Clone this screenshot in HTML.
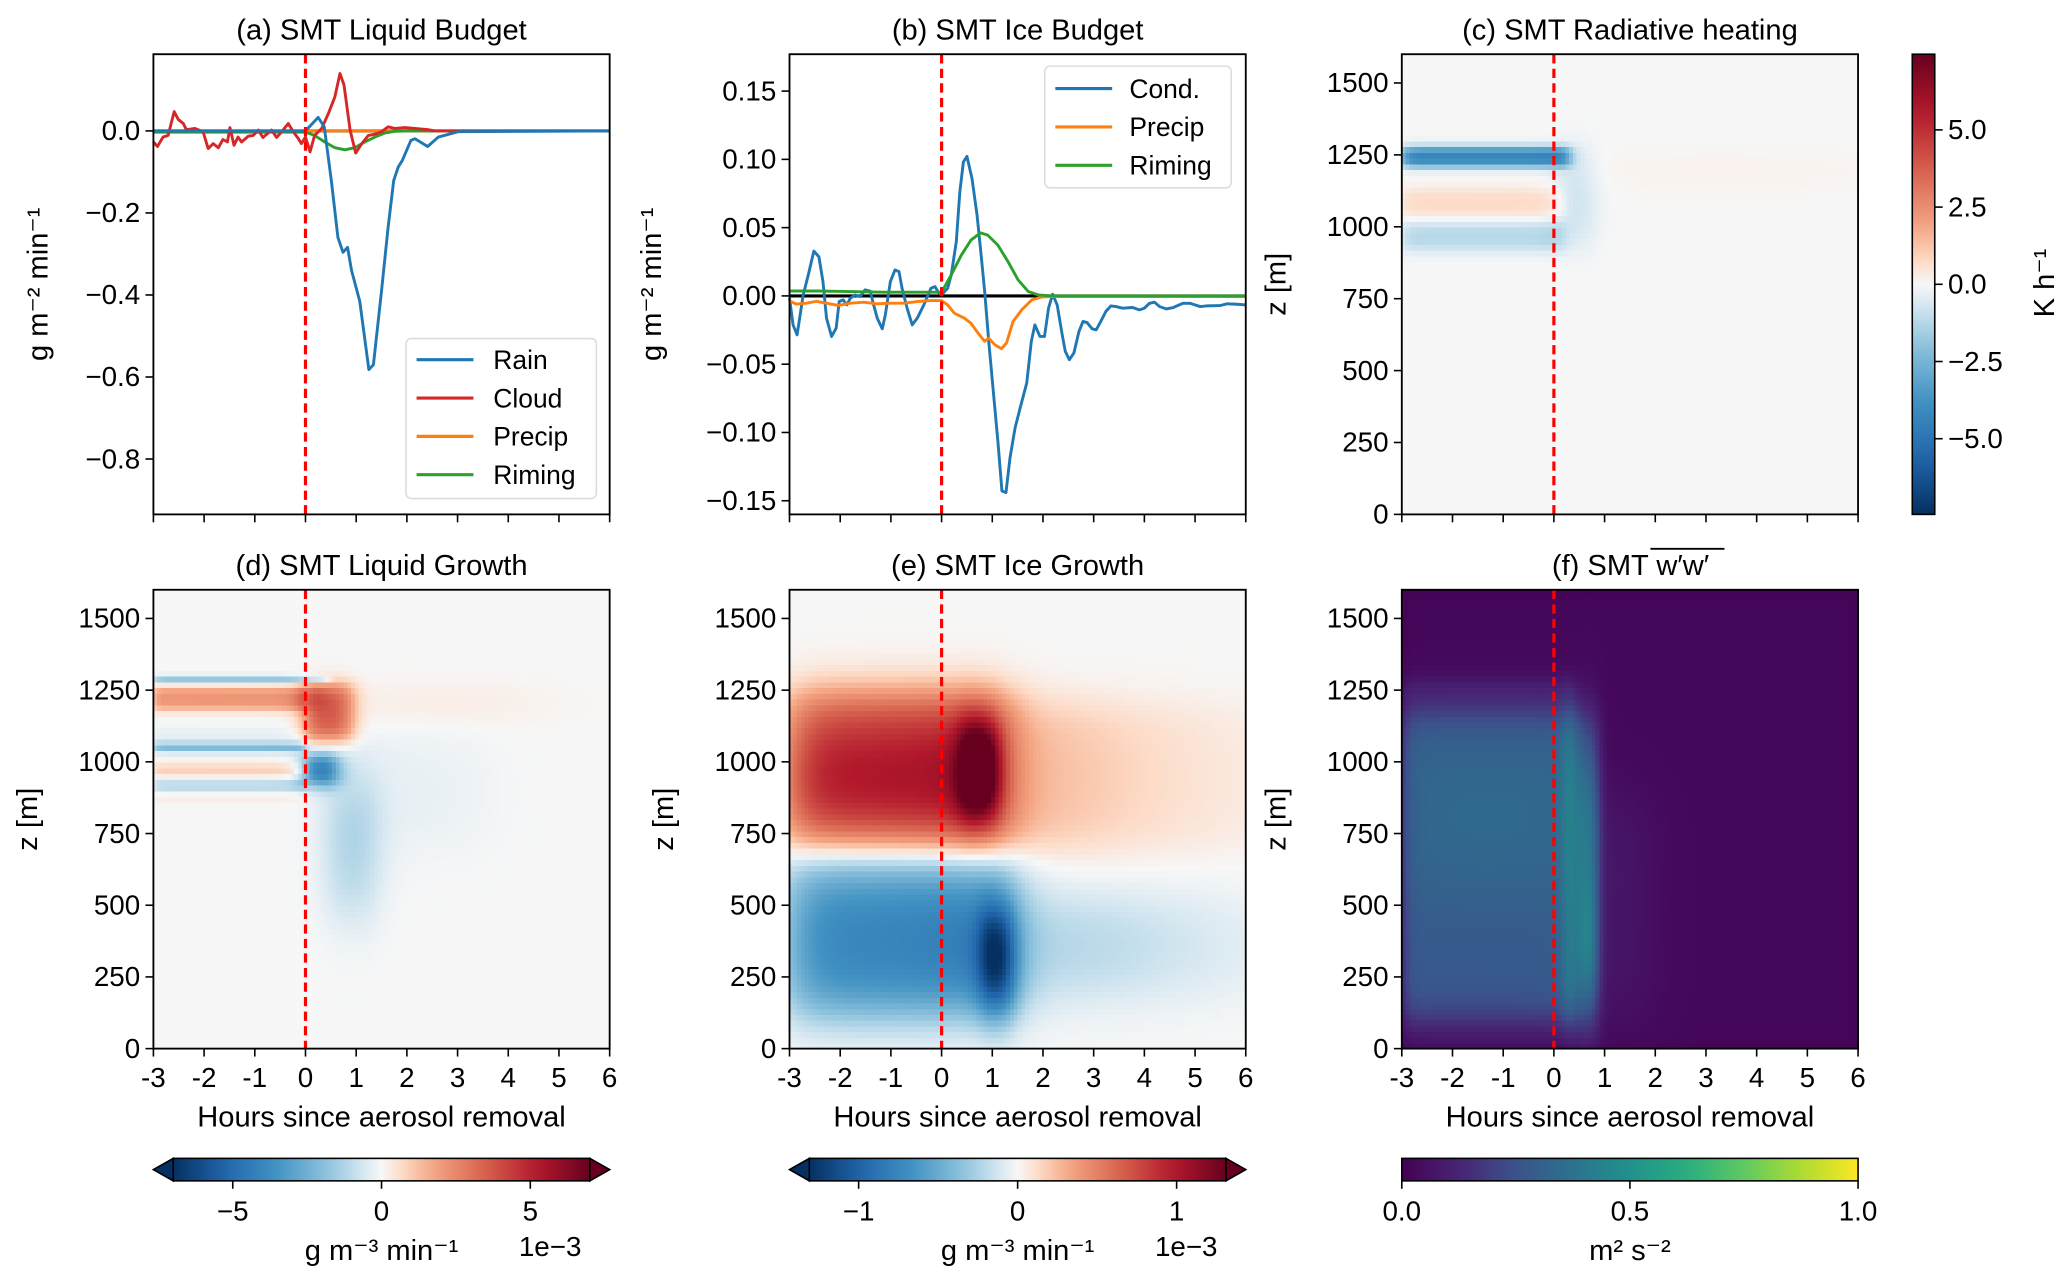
<!DOCTYPE html>
<html><head><meta charset="utf-8"><style>
html,body{margin:0;padding:0;background:#fff;}
svg{display:block;font-family:"Liberation Sans","DejaVu Sans",sans-serif;}
</style></head><body>
<svg id="fig" xmlns="http://www.w3.org/2000/svg" width="2067" height="1284" viewBox="0 0 1563 971" preserveAspectRatio="none">
<rect width="1563" height="971" fill="#fff"/>
<g id="layer"></g>
</svg>
<script>
// ---------- data: line panels ----------
const rainT=[-3,0,0.25,0.37,0.51,0.64,0.74,0.83,0.91,1.07,1.25,1.34,1.50,1.63,1.74,1.83,1.91,2.08,2.16,2.41,2.62,3.01,6];
const rainV=[0,0,0.033,0.010,-0.121,-0.260,-0.296,-0.284,-0.341,-0.415,-0.582,-0.570,-0.390,-0.235,-0.121,-0.088,-0.072,-0.023,-0.019,-0.038,-0.015,-0.002,0];
const cloudT=[-3,-2.92,-2.81,-2.71,-2.59,-2.51,-2.41,-2.35,-2.18,-2.02,-1.92,-1.82,-1.72,-1.63,-1.54,-1.49,-1.41,-1.33,-1.26,-1.13,-1.03,-0.93,-0.84,-0.67,-0.57,-0.47,-0.34,-0.24,-0.14,-0.08,0,0.09,0.18,0.32,0.45,0.58,0.68,0.76,0.88,0.99,1.11,1.24,1.37,1.50,1.63,1.76,1.96,2.16,2.42,2.55,6];
const cloudV=[-0.027,-0.038,-0.015,-0.011,0.047,0.028,0.018,0.003,0.006,-0.002,-0.043,-0.031,-0.041,-0.021,-0.027,0.008,-0.035,-0.015,-0.027,-0.013,-0.011,0.002,-0.016,0.002,-0.016,-0.002,0.018,-0.002,-0.019,-0.031,-0.015,-0.051,-0.011,0.006,0.042,0.083,0.140,0.112,0.002,-0.054,-0.031,-0.011,-0.008,-0.002,0.010,0.006,0.008,0.006,0.003,0,0];
const precipAT=[-3,6];
const precipAV=[0,0];
const rimeAT=[-3,0,0.18,0.38,0.58,0.78,0.97,1.17,1.37,1.57,1.76,2.03,6];
const rimeAV=[-0.003,-0.003,-0.011,-0.027,-0.041,-0.046,-0.041,-0.027,-0.015,-0.005,-0.001,0,0];
const condT=[-3,-2.93,-2.85,-2.73,-2.63,-2.52,-2.42,-2.34,-2.27,-2.17,-2.08,-2.02,-1.94,-1.87,-1.80,-1.71,-1.61,-1.51,-1.41,-1.34,-1.27,-1.17,-1.11,-1.01,-0.92,-0.84,-0.78,-0.68,-0.58,-0.48,-0.35,-0.21,-0.13,-0.05,0,0.12,0.19,0.29,0.36,0.43,0.50,0.60,0.70,0.78,0.85,0.93,1.02,1.11,1.19,1.27,1.35,1.45,1.55,1.68,1.77,1.84,1.94,2.03,2.11,2.19,2.28,2.38,2.44,2.52,2.61,2.71,2.79,2.87,2.97,3.05,3.14,3.24,3.34,3.44,3.57,3.77,3.90,4.00,4.10,4.20,4.30,4.43,4.57,4.76,4.90,5.10,5.23,5.49,5.63,5.83,6.0];
const condV=[-0.0017,-0.0212,-0.0285,0.0007,0.0153,0.0328,0.0287,0.0105,-0.0163,-0.0297,-0.0236,-0.0041,-0.0029,-0.0066,-0.0017,0.0007,-0.0005,0.0044,0.0036,-0.0066,-0.0163,-0.0241,-0.0139,0.0105,0.0190,0.0178,0.0056,-0.0090,-0.0212,-0.0163,-0.0066,0.0056,0.0068,0.0019,0.0007,0.0056,0.0153,0.0397,0.0762,0.0981,0.1022,0.0859,0.0591,0.0299,0.0032,-0.0333,-0.0698,-0.1063,-0.1428,-0.1440,-0.1185,-0.0966,-0.0820,-0.0637,-0.0333,-0.0212,-0.0297,-0.0297,-0.0090,0.0012,-0.0066,-0.0285,-0.0406,-0.0467,-0.0418,-0.0260,-0.0187,-0.0195,-0.0241,-0.0248,-0.0187,-0.0114,-0.0073,-0.0078,-0.0090,-0.0085,-0.0102,-0.0090,-0.0054,-0.0046,-0.0078,-0.0095,-0.0085,-0.0054,-0.0054,-0.0078,-0.0073,-0.0071,-0.0058,-0.0061,-0.0066];
const precipBT=[-3,-2.87,-2.67,-2.47,-2.27,-2.04,-1.80,-1.54,-1.27,-1.01,-0.74,-0.48,-0.21,0,0.12,0.25,0.45,0.58,0.72,0.85,0.93,1.05,1.18,1.28,1.41,1.58,1.78,1.98,2.18,2.51,6];
const precipBV=[-0.0036,-0.006,-0.0053,-0.004,-0.0053,-0.007,-0.0053,-0.0046,-0.0058,-0.0053,-0.0053,-0.0041,-0.0034,-0.0034,-0.0066,-0.0126,-0.0163,-0.0200,-0.0273,-0.0333,-0.0309,-0.0358,-0.0387,-0.0345,-0.0187,-0.0102,-0.0029,-0.0007,-0.0005,-0.0005,-0.0005];
const rimeBT=[-3,-2.47,-1.80,-1.14,-0.48,0,0.19,0.39,0.58,0.77,0.91,1.11,1.31,1.51,1.71,1.91,2.18,6];
const rimeBV=[0.0036,0.0036,0.0032,0.0027,0.0027,0.0027,0.0153,0.0299,0.0409,0.0462,0.0445,0.0372,0.0251,0.0117,0.0032,0.0007,0,0];
// ---------- data: tick labels ----------
const xTickVals=[-3,-2,-1,0,1,2,3,4,5,6];
const xTickLabels=["-3","-2","-1","0","1","2","3","4","5","6"];
const aTickVals=[0,-0.2,-0.4,-0.6,-0.8];
const aTickLabels=["0.0","\u22120.2","\u22120.4","\u22120.6","\u22120.8"];
const bTickVals=[0.15,0.10,0.05,0,-0.05,-0.10,-0.15];
const bTickLabels=["0.15","0.10","0.05","0.00","\u22120.05","\u22120.10","\u22120.15"];
const zTickVals=[0,250,500,750,1000,1250,1500];
const zTickLabels=["0","250","500","750","1000","1250","1500"];
const cbCTicks=[5,2.5,0,-2.5,-5];
const cbCLabels=["5.0","2.5","0.0","\u22122.5","\u22125.0"];
const cbDTicks=[-5,0,5];
const cbDLabels=["\u22125","0","5"];
const cbETicks=[-1,0,1];
const cbELabels=["\u22121","0","1"];
const cbFTicks=[0,0.5,1];
const cbFLabels=["0.0","0.5","1.0"];
// ---------- data: heatmap features [t0,t1,z0,z1,value,softT,softZ] ----------
const radBlobs=[[-3,0.3,1214,1277,-4.6,0.08,9],[-3,0.2,1038,1131,0.8,0.08,14],[-3,0.2,922,1015,-1.3,0.08,14],[0.1,0.75,950,1260,-1.0,0.15,40],[0.6,6,1150,1240,0.25,0.8,30]];
const liqBlobs=[[-3,0.45,1280,1298,-2.4,0.06,5],[-3,0,1185,1262,2.2,0.05,9],[-3,0,1065,1115,-0.4,0.05,12],[-3,0,1040,1065,-2.6,0.05,6],[-3,0,955,990,1.2,0.05,9],[-3,0,905,935,-1.6,0.05,8],[-3,0,865,890,0.4,0.05,8],[0,0.9,1080,1270,3.8,0.12,18],[0,0.3,1190,1270,1.6,0.1,15],[0,0.6,925,1025,-5.0,0.12,16],[0.45,1.4,480,930,-1.4,0.18,70],[0.6,3.5,700,1100,-0.3,0.4,60],[0.8,4.5,1150,1260,0.4,0.6,30]];
const iceBlobs=[[-3,1.3,710,1240,0.75,0.3,45],[-3,1.1,820,1080,0.3,0.2,60],[0.38,1.1,830,1120,0.9,0.12,50],[1.0,3.0,700,1200,0.2,0.7,50],[1.2,6,700,1200,0.12,1.0,50],[-3,1.4,120,660,-0.65,0.3,55],[-3,1.3,220,520,-0.12,0.2,60],[0.8,1.4,150,470,-0.9,0.12,55],[1.2,3.5,200,520,-0.18,0.8,60],[1.3,6,200,520,-0.15,1.0,60]];
const wwBlobs=[[-3,6,0,1600,0.02,0.1,10],[-3,0.45,90,1200,0.26,0.08,45],[-3,0.4,550,1100,0.06,0.3,80],[0.2,0.9,90,1180,0.18,0.07,60],[0.5,0.85,150,1000,0.18,0.06,90],[0.55,0.8,250,500,0.12,0.06,70],[0.85,1.8,100,900,0.07,0.3,70],[-3,0.4,1230,1290,0.04,0.05,15]];

// ---------- helpers ----------
const NS="http://www.w3.org/2000/svg";
const layer=document.getElementById('layer');
function mk(tag,attrs,parent){const e=document.createElementNS(NS,tag);for(const k in attrs)e.setAttribute(k,attrs[k]);(parent||layer).appendChild(e);return e;}
function txt(x,y,s,size,anchor,parent,rot){const e=mk('text',{x:x,y:y,'font-size':size,'text-anchor':anchor||'middle',fill:'#000'},parent);if(rot)e.setAttribute('transform','rotate('+rot+' '+x+' '+y+')');e.textContent=s;return e;}
const W=345;const TOP1=41,BOT1=389,TOP2=446,BOT2=793;
function xScale(x0){return t=>x0+(t+3)/9*W;}
function yLin(top,bot,vmax,vmin){return v=>top+(vmax-v)/(vmax-vmin)*(bot-top);}
function lerpC(stops,f){f=Math.max(0,Math.min(1,f));for(let i=1;i<stops.length;i++){if(f<=stops[i][0]){const a=stops[i-1],b=stops[i];const u=(f-a[0])/(b[0]-a[0]||1);const c=[0,1,2].map(k=>Math.round(a[1][k]+(b[1][k]-a[1][k])*u));return 'rgb('+c.join(',')+')';}}return 'rgb('+stops[stops.length-1][1].join(',')+')';}
const RdBu=[[0,[5,48,97]],[0.125,[33,102,172]],[0.25,[67,147,195]],[0.375,[146,197,222]],[0.45,[209,229,240]],[0.5,[247,247,247]],[0.55,[253,219,199]],[0.625,[244,165,130]],[0.75,[214,96,77]],[0.875,[178,24,43]],[1,[103,0,31]]];
const Vir=[[0,[68,1,84]],[0.125,[72,36,117]],[0.25,[59,82,139]],[0.375,[44,114,142]],[0.5,[33,145,140]],[0.625,[40,174,128]],[0.75,[94,201,98]],[0.875,[173,220,48]],[1,[253,231,37]]];
function sg(x,s){return 1/(1+Math.exp(-x/s));}
function field(blobs,t,z){let v=0;for(const b of blobs){v+=b[4]*sg(t-b[0],b[5])*sg(b[1]-t,b[5])*sg(z-b[2],b[6])*sg(b[3]-z,b[6]);}return v;}

function axesFrame(x0,top,bot,name){mk('rect',{x:x0,y:top,width:W,height:bot-top,fill:'none',stroke:'#000','stroke-width':1.4,});}
function xTicks(x0,bot,labels,name){const xs=xScale(x0);const g=mk('g',{});
 xTickVals.forEach((t,i)=>{mk('line',{x1:xs(t),x2:xs(t),y1:bot,y2:bot+6,stroke:'#000','stroke-width':1.2},g);if(labels)txt(xs(t),bot+29,xTickLabels[i],21,'middle',g);});
 if(labels)txt(x0+W/2,bot+59,'Hours since aerosol removal',22,'middle',g);}
function yTicks(x0,vals,labs,ys,name){const g=mk('g',{});vals.forEach((v,i)=>{mk('line',{x1:x0-6,x2:x0,y1:ys(v),y2:ys(v),stroke:'#000','stroke-width':1.2},g);txt(x0-10,ys(v)+7,labs[i],21,'end',g);});}
function zeroDash(x0,top,bot){const xs=xScale(x0);mk('line',{x1:xs(0),x2:xs(0),y1:top,y2:bot,stroke:'#ff0000','stroke-width':2.4,'stroke-dasharray':'7,4',});}
function line(T,V,xs,ys,color,name,w){const d=T.map((t,i)=>(i?'L':'M')+xs(t).toFixed(2)+','+ys(V[i]).toFixed(2)).join('');const p=mk('path',{d:d,fill:'none',stroke:color,'stroke-width':w||2.2,'stroke-linejoin':'round'});}
function heat(x0,top,bot,blobs,vmin,vmax,cmap,name){const xs=xScale(x0);const zs=yLin(top,bot,1600,0);const g=mk('g',{'shape-rendering':'crispEdges'});
 const dt=0.075,dz=20;for(let i=0;i<120;i++){const t=-3+i*dt;for(let z=0;z<1600;z+=dz){const v=field(blobs,t+dt/2,z+dz/2);const c=lerpC(cmap,(v-vmin)/(vmax-vmin));const r=mk('rect',{x:xs(t).toFixed(2),y:zs(z+dz).toFixed(2),width:(xs(dt)-xs(0)+0.6).toFixed(2),height:(zs(0)-zs(dz)+0.6).toFixed(2),fill:c},g);
   
   }}}

// ---------- Panel (a) ----------
{const x0=116;const xs=xScale(x0);const ys=yLin(TOP1,BOT1,0.187,-0.935);
 txt(x0+W/2,30,'(a) SMT Liquid Budget',22);
 mk('line',{x1:x0,x2:x0+W,y1:ys(0),y2:ys(0),stroke:'#000','stroke-width':2.4,});
 line(precipAT,precipAV,xs,ys,'#ff7f0e','precip-a-line');
 line(rimeAT,rimeAV,xs,ys,'#2ca02c','riming-a-line');
 line(cloudT,cloudV,xs,ys,'#d62728','cloud-a-line');
 line(rainT,rainV,xs,ys,'#1f77b4','rain-a-line');
 zeroDash(x0,TOP1,BOT1);axesFrame(x0,TOP1,BOT1,'panel-a');xTicks(x0,BOT1,false,'panel-a');yTicks(x0,aTickVals,aTickLabels,ys,'panel-a');
 txt(36,215,'g m\u207B\u00B2 min\u207B\u00B9',22,'middle',null,-90);
 const lg=mk('g',{});mk('rect',{x:307,y:256,width:144,height:121,rx:4,fill:'#fff','fill-opacity':0.85,stroke:'#ddd','stroke-width':1.2},lg);
 [['Rain','#1f77b4'],['Cloud','#d62728'],['Precip','#ff7f0e'],['Riming','#2ca02c']].forEach((e,i)=>{const y=272+i*29;const ge=mk('g',{},lg);mk('line',{x1:315,x2:358,y1:y,y2:y,stroke:e[1],'stroke-width':2.4},ge);txt(373,y+7,e[0],20,'start',ge);});}
// ---------- Panel (b) ----------
{const x0=597;const xs=xScale(x0);const ys=yLin(TOP1,BOT1,0.177,-0.160);
 txt(x0+W/2,30,'(b) SMT Ice Budget',22);
 mk('line',{x1:x0,x2:x0+W,y1:ys(0),y2:ys(0),stroke:'#000','stroke-width':2.4,});
 line(condT,condV,xs,ys,'#1f77b4','cond-b-line');
 line(precipBT,precipBV,xs,ys,'#ff7f0e','precip-b-line');
 line(rimeBT,rimeBV,xs,ys,'#2ca02c','riming-b-line');
 zeroDash(x0,TOP1,BOT1);axesFrame(x0,TOP1,BOT1,'panel-b');xTicks(x0,BOT1,false,'panel-b');yTicks(x0,bTickVals,bTickLabels,ys,'panel-b');
 txt(500,215,'g m\u207B\u00B2 min\u207B\u00B9',22,'middle',null,-90);
 const lg=mk('g',{});mk('rect',{x:790,y:50,width:141,height:92,rx:4,fill:'#fff','fill-opacity':0.85,stroke:'#ddd','stroke-width':1.2},lg);
 [['Cond.','#1f77b4'],['Precip','#ff7f0e'],['Riming','#2ca02c']].forEach((e,i)=>{const y=67+i*29;const ge=mk('g',{},lg);mk('line',{x1:798,x2:841,y1:y,y2:y,stroke:e[1],'stroke-width':2.4},ge);txt(854,y+7,e[0],20,'start',ge);});}
// ---------- heatmap panels ----------
function heatPanel(x0,top,bot,blobs,vmin,vmax,cmap,title,name,labels){
 heat(x0,top,bot,blobs,vmin,vmax,cmap,name+'-heatmap');zeroDash(x0,top,bot);axesFrame(x0,top,bot,name);xTicks(x0,bot,labels,name);
 yTicks(x0,zTickVals,zTickLabels,yLin(top,bot,1600,0),name);
 txt(x0-88,(top+bot)/2,'z [m]',22,'middle',null,-90);
 if(title){txt(x0+W/2,top-11,title,22);}}
heatPanel(1060,TOP1,BOT1,radBlobs,-7.45,7.45,RdBu,'(c) SMT Radiative heating','panel-c',false);
heatPanel(116,TOP2,BOT2,liqBlobs,-7,7,RdBu,'(d) SMT Liquid Growth','panel-d',true);
heatPanel(597,TOP2,BOT2,iceBlobs,-1.31,1.31,RdBu,'(e) SMT Ice Growth','panel-e',true);
heatPanel(1060,TOP2,BOT2,wwBlobs,0,1,Vir,null,'panel-f',true);
{const t=txt(1233,435,'(f) SMT w\u2032w\u2032',22);
 mk('line',{x1:1248,x2:1304,y1:415,y2:415,stroke:'#000','stroke-width':1.4,});}
// ---------- colorbars ----------
function gradDef(id,cmap,vert){const defs=mk('defs',{});const g=mk('linearGradient',{id:id,x1:0,y1:vert?1:0,x2:vert?0:1,y2:0},defs);for(let i=0;i<=20;i++){mk('stop',{offset:(i/20),'stop-color':lerpC(cmap,i/20)},g);}}
gradDef('gRdV',RdBu,true);gradDef('gRdH',RdBu,false);gradDef('gVir',Vir,false);
{const g=mk('g',{});mk('rect',{x:1446,y:41,width:17,height:348,fill:'url(#gRdV)',stroke:'#000','stroke-width':1.2},g);
 const ys=yLin(41,389,7.45,-7.45);cbCTicks.forEach((v,i)=>{mk('line',{x1:1463,x2:1469,y1:ys(v),y2:ys(v),stroke:'#000','stroke-width':1.2},g);txt(1473,ys(v)+7,cbCLabels[i],21,'start',g);});
 txt(1553,214,'K h\u207B\u00B9',22,'middle',g,-90);}
function hbar(x0,vmax,ticks,labels,label,name,ext,grad,off){const g=mk('g',{});const y0=876,h=17;
 const b0=ext?x0+15:x0,b1=ext?x0+W-15:x0+W;
 if(ext){mk('polygon',{points:`${x0},${y0+h/2} ${b0},${y0} ${b0},${y0+h}`,fill:lerpC(RdBu,0),stroke:'#000','stroke-width':1.2},g);mk('polygon',{points:`${x0+W},${y0+h/2} ${b1},${y0} ${b1},${y0+h}`,fill:lerpC(RdBu,1),stroke:'#000','stroke-width':1.2},g);}
 mk('rect',{x:b0,y:y0,width:b1-b0,height:h,fill:'url(#'+grad+')',stroke:'#000','stroke-width':1.2},g);
 const vmin=ext?-vmax:0;const xs=v=>b0+(v-vmin)/(vmax-vmin)*(b1-b0);
 ticks.forEach((v,i)=>{mk('line',{x1:xs(v),x2:xs(v),y1:y0+h,y2:y0+h+6,stroke:'#000','stroke-width':1.2},g);txt(xs(v),y0+h+30,labels[i],21,'middle',g);});
 txt(x0+W/2,y0+h+60,label,22,'middle',g);if(off)txt(x0+W-45,y0+h+57,off,21,'middle',g);}
hbar(116,7,cbDTicks,cbDLabels,'g m\u207B\u00B3 min\u207B\u00B9','colorbar-d',true,'gRdH','1e\u22123');
hbar(597,1.31,cbETicks,cbELabels,'g m\u207B\u00B3 min\u207B\u00B9','colorbar-e',true,'gRdH','1e\u22123');
hbar(1060,1,cbFTicks,cbFLabels,'m\u00B2 s\u207B\u00B2','colorbar-f',false,'gVir',null);
</script>
</body></html>
